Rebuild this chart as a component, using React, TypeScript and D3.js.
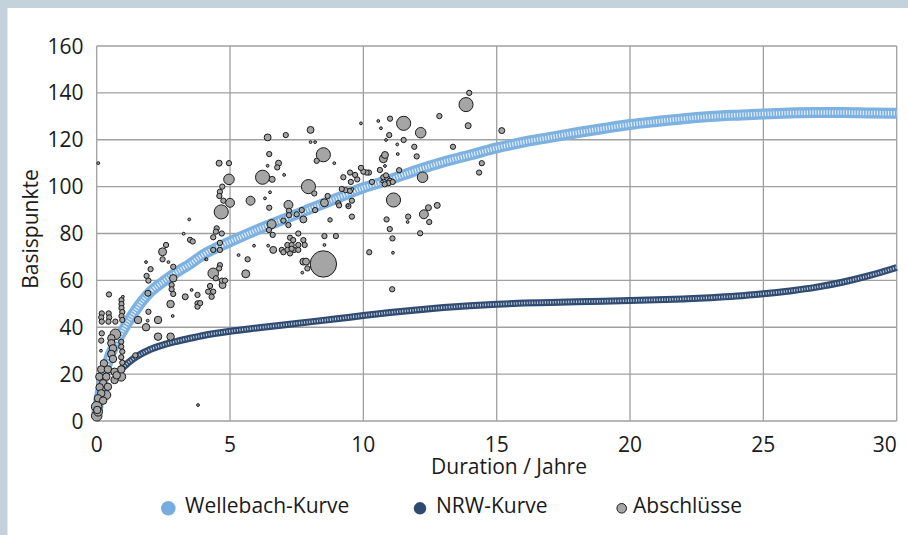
import React from "react";
import * as d3 from "d3";

const xTicks = [0, 5, 10, 15, 20, 25, 30];
const yTicks = [0, 20, 40, 60, 80, 100, 120, 140, 160];
const xTitle = "Duration / Jahre";
const yTitle = "Basispunkte";
const seriesNames = ["Wellebach-Kurve", "NRW-Kurve", "Abschlüsse"];

// [duration, basis points]
const wellebachCurve: [number, number][] = [
  [0, 3], [0.1, 10], [0.25, 18], [0.5, 28], [0.75, 34], [1, 39], [1.5, 48], [2, 55],
  [2.5, 59.5], [3, 63.5], [3.5, 67], [4, 71], [5, 76.5], [6, 81.5], [7, 86], [8, 90.5],
  [9, 95], [10, 99.5], [11, 103], [12, 107], [13, 110.5], [14, 113.5], [15, 116.5],
  [16, 119], [17, 121], [18, 123], [19, 124.8], [20, 126.5], [21, 127.8], [22, 129],
  [23, 129.9], [24, 130.5], [25, 131], [26, 131.4], [27, 131.6], [28, 131.6],
  [29, 131.4], [30, 131.3],
];

const nrwCurve: [number, number][] = [
  [0.9, 22], [1, 23], [1.25, 25.5], [1.5, 27.5], [2, 30.5], [2.5, 32.5], [3, 34],
  [3.5, 35.3], [4, 36.5], [5, 38.3], [6, 39.7], [7, 41], [8, 42.3], [9, 43.6],
  [10, 45], [11, 46.3], [12, 47.4], [13, 48.4], [14, 49.2], [15, 49.8], [16, 50.3],
  [17, 50.6], [18, 50.9], [19, 51.1], [20, 51.4], [21, 51.7], [22, 52.1], [23, 52.6],
  [24, 53.3], [25, 54.3], [26, 55.5], [27, 57.1], [28, 59.3], [29, 62.1], [30, 65.5],
];

// [duration, basis points, volume]
const deals: [number, number, number][] = [
  [0.06, 110, 2], [0.46, 54, 7], [0.19, 45.9, 7], [0.17, 44.2, 7], [0.19, 42.4, 7],
  [0.45, 45.9, 7], [0.47, 44.2, 7], [0.44, 42.4, 7], [0.93, 51.6, 7], [0.93, 49.9, 7],
  [0.93, 48.2, 7], [0.96, 46.5, 7], [0.93, 44.8, 7], [0.96, 43.1, 7], [0.98, 53, 2],
  [0.7, 42.4, 7], [0.19, 37.4, 7], [0.17, 34.3, 7], [0.7, 37, 28], [0.55, 35.3, 14],
  [0.55, 33.2, 14], [0.61, 31, 14], [0.55, 28.6, 14], [0.61, 26.5, 14], [0.16, 30, 2],
  [0.92, 33.8, 7], [0.92, 31.7, 7], [0.96, 29.6, 7], [0.92, 27.2, 7], [0.96, 24.9, 7],
  [0.92, 22, 14], [0.92, 18.9, 20], [0.27, 24.6, 14], [0.17, 22, 14], [0.42, 22, 14],
  [0.67, 21, 14], [0.1, 18.9, 14], [0.36, 18.9, 14], [0.67, 17.5, 14], [0.75, 19.5, 14],
  [0.24, 16.1, 14], [0.11, 14.4, 14], [0.42, 14.6, 14], [0.17, 11.8, 14], [0.36, 11.1, 20],
  [0.05, 9.7, 14], [0.24, 8.7, 14], [0.0, 6.1, 28], [0.02, 4.7, 14], [0.05, 4, 20],
  [0.0, 2.2, 28],
  [1.45, 28, 7], [1.55, 43.1, 14], [1.85, 67.8, 2], [2.02, 64.8, 7], [1.87, 61.9, 7],
  [1.94, 59.9, 7], [1.92, 54.5, 9], [1.94, 46.6, 7], [1.91, 42.8, 2], [1.85, 40, 14],
  [2.3, 43.1, 14], [2.3, 36, 14], [2.77, 36, 14], [2.47, 72.2, 16], [2.6, 75.1, 7],
  [2.47, 69, 7], [2.69, 67.8, 2], [2.87, 65.8, 7], [2.87, 60.9, 14], [2.81, 58, 7],
  [2.81, 56.2, 7], [2.87, 54.2, 7], [2.77, 49.9, 14], [2.85, 44.8, 2], [3.32, 53, 9],
  [3.56, 55.9, 2], [3.78, 53.8, 7], [3.78, 50.2, 7], [3.78, 48.8, 7], [3.47, 86, 2],
  [3.26, 79.9, 2], [3.5, 77.3, 7], [3.6, 76.6, 7], [3.8, 6.8, 2], [3.88, 50.3, 7],
  [4.1, 69, 2],
  [6.47, 113.9, 7], [4.59, 110, 9], [4.96, 110, 7], [6.82, 110, 9], [6.77, 108.2, 7],
  [8.5, 113.6, 50], [8.25, 111, 7], [8.91, 110, 2], [6.41, 108.9, 2], [7.03, 105, 2],
  [6.22, 104, 50], [6.58, 103.1, 9], [4.96, 103.1, 28], [4.71, 100, 7], [4.62, 97.8, 7],
  [4.6, 96, 7], [4.75, 94, 7], [5.0, 93.1, 20], [5.77, 94, 20], [4.67, 89.2, 50],
  [6.5, 97.6, 2], [6.31, 95, 2], [7.94, 100, 50], [8.16, 97.1, 7], [8.66, 96, 7],
  [7.19, 92.2, 20], [6.47, 91, 7], [7.21, 89.7, 7], [7.69, 90, 7], [7.5, 88.2, 7],
  [8.19, 90, 7], [8.54, 93.1, 16], [9.06, 92.9, 7], [9.25, 104, 7], [9.34, 98.5, 7],
  [9.41, 92, 2], [6.56, 84, 20], [6.46, 81.5, 7], [7.0, 85.5, 7], [7.19, 83.6, 7],
  [7.75, 86, 12], [7.21, 87.8, 7], [8.75, 85.8, 5], [4.5, 82.2, 7], [4.47, 80.8, 7],
  [4.69, 80, 7], [4.37, 78.4, 7], [6.6, 79.4, 7], [7.56, 80, 7], [7.25, 78.2, 7],
  [7.37, 77.2, 7], [6.94, 73, 7], [7.15, 75.1, 7], [7.31, 75.1, 7], [7.56, 75.1, 7],
  [7.4, 73, 7], [7.15, 73, 7], [7.0, 72, 7], [7.25, 71.5, 7], [7.31, 73.5, 7],
  [7.75, 77.2, 7], [7.8, 75.1, 7], [7.56, 73, 7], [8.54, 78.9, 7], [8.97, 78.9, 7],
  [8.54, 75.1, 2], [6.62, 73, 12], [6.43, 74.8, 2], [5.9, 74.8, 2], [8.5, 67, 175],
  [7.75, 68, 12], [7.85, 68, 12], [7.9, 65.1, 7], [7.71, 63.3, 2], [5.66, 69, 7],
  [5.32, 70.8, 2], [5.59, 62.8, 16], [4.37, 63, 28], [4.62, 66.5, 7], [4.59, 65.1, 7],
  [4.37, 73, 7], [4.62, 73, 7], [4.12, 69, 2], [4.47, 60.9, 7], [4.69, 59.9, 7],
  [4.81, 59.9, 7], [4.72, 58, 12], [4.25, 57.6, 7], [4.18, 55.2, 7], [4.37, 55.2, 7],
  [4.31, 53, 7], [4.62, 76, 7], [6.41, 121, 12], [7.09, 122, 7], [8.02, 124.2, 12],
  [8.02, 119, 2], [8.19, 119, 2],
  [13.97, 140, 7], [13.85, 135, 50], [13.93, 126, 9], [15.19, 123.9, 9], [12.85, 130.1, 7],
  [11.51, 127, 50], [12.15, 123, 28], [11.0, 129, 7], [10.56, 128, 2], [9.91, 127, 2],
  [10.66, 124.9, 2], [10.97, 122, 7], [10.85, 119.9, 2], [11.51, 119.9, 7], [11.27, 118, 2],
  [11.91, 117, 7], [13.36, 117, 7], [11.29, 113.9, 2], [12.0, 112.9, 7], [10.81, 113.5, 12],
  [10.75, 111.9, 16], [10.62, 107.1, 7], [11.34, 107, 7], [10.81, 108.8, 2], [12.22, 104, 28],
  [10.75, 104, 7], [10.9, 103.5, 7], [11.0, 102.5, 7], [10.95, 101.5, 7], [11.1, 102, 7],
  [10.8, 101, 7], [10.7, 102.2, 2], [10.85, 104.8, 7], [10.32, 102, 7], [10.21, 106, 7],
  [10.12, 106, 7], [10.0, 106.4, 7], [9.91, 108, 7], [9.77, 103.1, 7], [9.5, 106, 7],
  [9.69, 105, 7], [9.53, 102, 7], [9.59, 99, 2], [9.19, 99, 7], [9.5, 98.2, 7],
  [9.57, 94, 7], [9.44, 91.7, 7], [9.09, 92, 7], [11.13, 94.3, 50], [9.57, 87.2, 7],
  [12.44, 91, 9], [12.77, 92, 9], [12.27, 88.2, 20], [12.47, 84.9, 7], [11.68, 87.2, 7],
  [11.66, 84.9, 2], [10.87, 86, 7], [10.99, 81.9, 7], [11.09, 77.9, 7], [12.13, 80.1, 7],
  [10.22, 72, 7], [11.11, 71.8, 2], [11.08, 56.2, 7], [14.44, 110, 7], [14.34, 106, 7],
];

const W = 908;
const H = 535;
const FONT = "'Open Sans', 'Noto Sans', sans-serif";

export default function App() {
  const x = d3.scaleLinear().domain([0, 30]).range([96.7, 896.7]);
  const y = d3.scaleLinear().domain([0, 160]).range([421, 46]);
  const r = d3.scaleSqrt().domain([0, 175]).range([0, 13.2]);

  const line = d3
    .line<[number, number]>()
    .x((d) => x(d[0]))
    .y((d) => y(d[1]))
    .curve(d3.curveMonotoneX);

  const sorted = [...deals].sort((a, b) => b[2] - a[2]);
  const [x0, x1] = x.range();
  const [y0, y1] = y.range();

  return (
    <svg
      width={W}
      height={H}
      style={{ position: "absolute", left: 0, top: 0, background: "#fff" }}
      fontFamily={FONT}
    >
      <rect x={0} y={0} width={W} height={8} fill="#c4d2dc" />
      <rect x={0} y={0} width={7.5} height={H} fill="#c4d2dc" />

      {yTicks.map((t) => (
        <line key={"gy" + t} x1={x0} x2={x1} y1={y(t)} y2={y(t)} stroke="#a0a0a0" strokeWidth={1.3} />
      ))}
      {xTicks.map((t) => (
        <line key={"gx" + t} x1={x(t)} x2={x(t)} y1={y0} y2={y1} stroke="#a0a0a0" strokeWidth={1.3} />
      ))}

      {yTicks.map((t) => (
        <text key={"ty" + t} x={83.5} y={y(t) + 7.5} textAnchor="end" fontSize={21} fill="#1a1a1a">
          {t}
        </text>
      ))}
      {xTicks.map((t, i) => (
        <text
          key={"tx" + t}
          x={i === xTicks.length - 1 ? x(t) : x(t)}
          y={451.7}
          textAnchor={i === xTicks.length - 1 ? "end" : "middle"}
          fontSize={21}
          fill="#1a1a1a"
        >
          {t}
        </text>
      ))}

      <text x={509} y={474} textAnchor="middle" fontSize={21} fill="#1a1a1a">
        {xTitle}
      </text>
      <text transform="translate(38,229) rotate(-90)" textAnchor="middle" fontSize={21} fill="#1a1a1a">
        {yTitle}
      </text>

      {/* Wellebach curve */}
      <path d={line(wellebachCurve) || ""} fill="none" stroke="#7db1e1" strokeWidth={11} />
      <path d={line(wellebachCurve) || ""} fill="none" stroke="#ffffff" strokeOpacity={0.8} strokeWidth={4.5} strokeDasharray="1.2 1.6" />

      {/* NRW curve */}
      <path d={line(nrwCurve) || ""} fill="none" stroke="#304c72" strokeWidth={7} />
      <path d={line(nrwCurve) || ""} fill="none" stroke="#ffffff" strokeOpacity={0.75} strokeWidth={2.6} strokeDasharray="1 1.6" />

      {sorted.map((d, i) => (
        <circle
          key={"b" + i}
          cx={x(d[0])}
          cy={y(d[1])}
          r={r(d[2])}
          fill="#a5a5a5"
          stroke="#1a1a1a"
          strokeWidth={1}
        />
      ))}

      {/* legend */}
      <circle cx={168.3} cy={508.3} r={7.3} fill="#77acdf" />
      <text x={185} y={513.3} fontSize={21} fill="#1a1a1a">{seriesNames[0]}</text>
      <circle cx={420} cy={508.3} r={6.2} fill="#2e4a6e" />
      <text x={436} y={513.3} fontSize={21} fill="#1a1a1a">{seriesNames[1]}</text>
      <circle cx={621.7} cy={508.3} r={4.8} fill="#a5a5a5" stroke="#1a1a1a" strokeWidth={1} />
      <text x={633} y={513.3} fontSize={21} fill="#1a1a1a">{seriesNames[2]}</text>
    </svg>
  );
}
